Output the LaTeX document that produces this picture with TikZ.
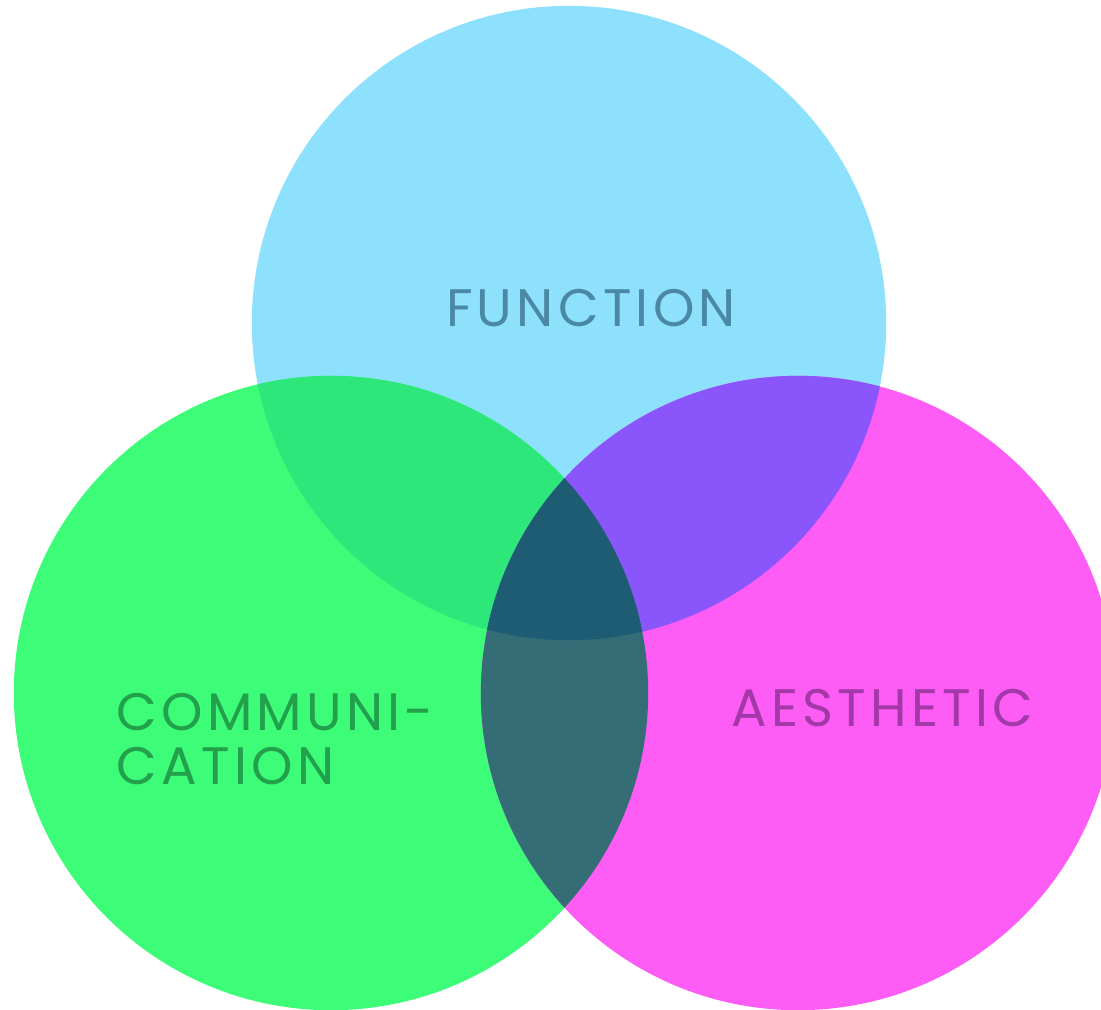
\documentclass[tikz,border=0pt]{standalone}
\usepackage{fontspec}
\setmainfont{Poppins}[LetterSpace=8]
\usepackage{tikz}
\usetikzlibrary{positioning}

\definecolor{fnblue}{HTML}{8EE1FC}
\definecolor{comgreen}{HTML}{3DFD78}
\definecolor{aesmag}{HTML}{FD5CF5}
\definecolor{fncom}{HTML}{2EE77B}
\definecolor{fnaes}{HTML}{8A55FA}
\definecolor{comaes}{HTML}{346D76}
\definecolor{allthree}{HTML}{1E5C74}
\definecolor{fntext}{HTML}{4A88A5}
\definecolor{comtext}{HTML}{22A04C}
\definecolor{aestext}{HTML}{A338A8}

\begin{document}
\begin{tikzpicture}[x=0.01cm, y=-0.01cm, vennlabel/.style = {font=\fontsize{15}{15.2}\selectfont, inner sep=0pt}]
    \useasboundingbox (0,0) rectangle (1101,1009);
    \def\fncirc{(569,323) circle [radius=3.17cm]}
    \def\comcirc{(331,693) circle [radius=3.17cm]}
    \def\aescirc{(798,693) circle [radius=3.17cm]}

    \fill[fnblue] \fncirc;
    \fill[comgreen] \comcirc;
    \fill[aesmag] \aescirc;
    \begin{scope}
        \clip \fncirc;
        \fill[fncom] \comcirc;
        \fill[fnaes] \aescirc;
    \end{scope}
    \begin{scope}
        \clip \comcirc;
        \fill[comaes] \aescirc;
        \clip \fncirc;
        \fill[allthree] \aescirc;
    \end{scope}

    \node[vennlabel, text=fntext] (fn) at (591,308) {FUNCTION};
    \node[vennlabel, text=comtext, align=left, anchor=west] (com) at (116,739) {COMMUNI-\\CATION};
    \node[vennlabel, text=aestext, anchor=west] (aes) at (731,708) {AESTHETIC};
\end{tikzpicture}
\end{document}
